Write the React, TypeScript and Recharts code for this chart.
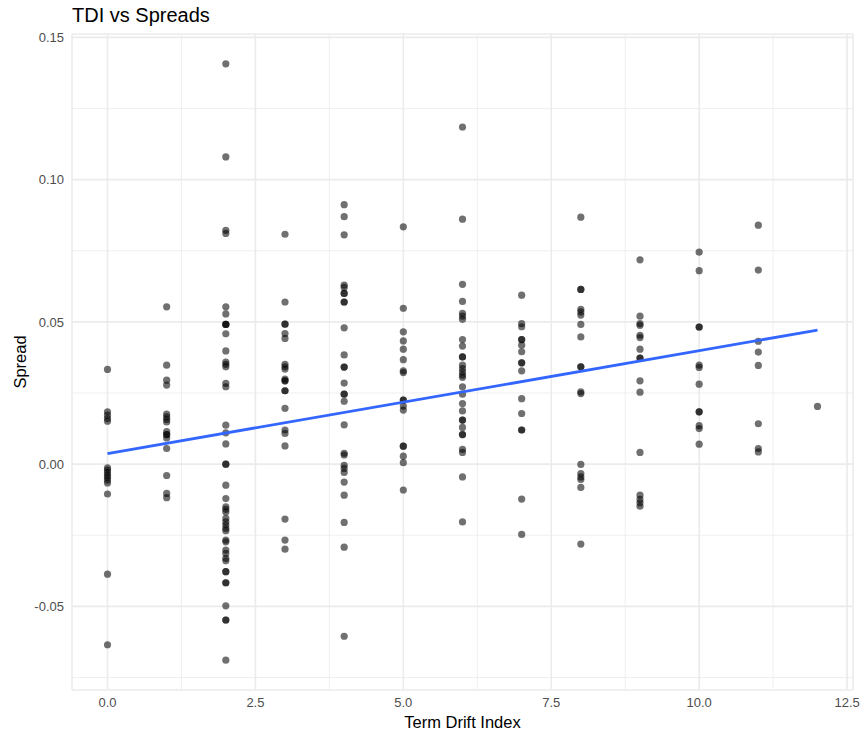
import { ScatterChart, Scatter, XAxis, YAxis, CartesianGrid } from 'recharts';

// spread values read per Term Drift Index column
const spreadAt0 = [0.0333, 0.0184, 0.0172, 0.016, 0.0151, -0.0013, -0.0021, -0.003, -0.0039, -0.0047, -0.0056, -0.0066, -0.0105, -0.0387, -0.0635];
const spreadAt1 = [0.0553, 0.0348, 0.0295, 0.0278, 0.0176, 0.0166, 0.0157, 0.0148, 0.0114, 0.0104, 0.0104, 0.0092, 0.0055, -0.004, -0.0103, -0.0118];
const spreadAt2 = [
    0.1407, 0.108, 0.0822, 0.0811, 0.0553, 0.0528, 0.0491, 0.0491, 0.0491, 0.0458, 0.0398, 0.0359, 0.0351, 0.0342,
    0.0284, 0.0272, 0.0137, 0.011, 0.0071, 0, 0, -0.0074, -0.0121, -0.015, -0.0159, -0.0168, -0.0191, -0.0203, -0.0214,
    -0.0226, -0.0234, -0.0267, -0.0273, -0.0302, -0.0314, -0.0331, -0.034, -0.0378, -0.0378, -0.0417, -0.0417, -0.0498,
    -0.0548, -0.0548, -0.0689,
];
const spreadAt3 = [0.0808, 0.057, 0.0492, 0.0492, 0.0459, 0.0442, 0.0351, 0.0342, 0.0334, 0.0299, 0.0293, 0.0293, 0.0258, 0.0258, 0.0196, 0.012, 0.0108, 0.0064, -0.0193, -0.0267, -0.0299];
const spreadAt4 = [
    0.0912, 0.087, 0.0806, 0.0629, 0.0621, 0.06, 0.06, 0.057, 0.057, 0.0479, 0.0384, 0.0341, 0.0341, 0.0285, 0.0246,
    0.0246, 0.0221, 0.0138, 0.0038, 0.0032, -0.0004, -0.0015, -0.0029, -0.0063, -0.0109, -0.0205, -0.0292, -0.0605,
];
const spreadAt5 = [0.0834, 0.0548, 0.0465, 0.0433, 0.0404, 0.0367, 0.0328, 0.0322, 0.0225, 0.0225, 0.0204, 0.019, 0.0063, 0.0063, 0.0028, 0.0005, -0.0091];
const spreadAt6 = [
    0.1185, 0.0861, 0.0632, 0.0572, 0.053, 0.052, 0.0509, 0.0438, 0.0415, 0.0377, 0.0377, 0.0348, 0.0336, 0.0324, 0.0313,
    0.0305, 0.0272, 0.0246, 0.0213, 0.0187, 0.0155, 0.0155, 0.0129, 0.0104, 0.0104, 0.0052, 0.0041, -0.0045, -0.0203,
];
const spreadAt7 = [0.0594, 0.0494, 0.0483, 0.0438, 0.0438, 0.0418, 0.0395, 0.0356, 0.0356, 0.0328, 0.023, 0.0178, 0.012, 0.012, -0.0123, -0.0247];
const spreadAt8 = [0.0868, 0.0614, 0.0614, 0.0544, 0.0535, 0.0524, 0.0491, 0.0447, 0.0342, 0.0342, 0.0254, 0.0248, -0.0001, -0.0033, -0.0045, -0.0054, -0.0082, -0.0281];
const spreadAt9 = [0.0718, 0.052, 0.0494, 0.0488, 0.0453, 0.0445, 0.0404, 0.0373, 0.0373, 0.0293, 0.0253, 0.0041, -0.0109, -0.0124, -0.0136, -0.0148];
const spreadAt10 = [0.0745, 0.068, 0.0482, 0.0482, 0.0348, 0.034, 0.0281, 0.0184, 0.0184, 0.0135, 0.0125, 0.007];
const spreadAt11 = [0.084, 0.0682, 0.0432, 0.0394, 0.0347, 0.0142, 0.0055, 0.0043];
const spreadAt12 = [0.0203];

const spreadColumns = [spreadAt0, spreadAt1, spreadAt2, spreadAt3, spreadAt4, spreadAt5, spreadAt6, spreadAt7, spreadAt8, spreadAt9, spreadAt10, spreadAt11, spreadAt12];

// fitted line, end points
const fitLine = [
    { x: 0, y: 0.0037 },
    { x: 12, y: 0.0471 },
];

const xTicks = [0, 2.5, 5, 7.5, 10, 12.5];
const xMinor = [1.25, 3.75, 6.25, 8.75, 11.25];
const yTicks = [-0.05, 0, 0.05, 0.1, 0.15];
const yMinor = [-0.075, -0.025, 0.025, 0.075, 0.125];

const points = spreadColumns.flatMap((col, tdi) => col.map((spread) => ({ x: tdi, y: spread })));

const FONT = '"Liberation Sans", Arial, Helvetica, sans-serif';

const Dot = (props: any) => <circle cx={props.cx} cy={props.cy} r={3.6} fill="#000" fillOpacity={0.56} />;

const App = () => {
    return (
        <div style={{ position: 'absolute', left: 0, top: 0, width: 862, height: 733, background: '#fff', fontFamily: FONT }}>
            <div style={{ position: 'absolute', left: 72, top: 3, fontSize: 20, lineHeight: '24px', color: '#000' }}>TDI vs Spreads</div>
            <ScatterChart width={862} height={733} margin={{ top: 34, right: 9, bottom: 0, left: 0 }}>
                <CartesianGrid stroke="#ebebeb" strokeWidth={0.8} horizontalValues={yMinor} verticalValues={xMinor} />
                <CartesianGrid stroke="#ebebeb" strokeWidth={1.6} />
                <XAxis
                    type="number"
                    dataKey="x"
                    domain={[-0.6, 12.6]}
                    ticks={xTicks}
                    tickFormatter={(v: number) => v.toFixed(1)}
                    axisLine={false}
                    tickLine={false}
                    height={43}
                    tick={{ fill: '#4d4d4d', fontSize: 13, fontFamily: FONT }}
                    label={{ value: 'Term Drift Index', position: 'insideBottom', offset: 5, fill: '#000', fontSize: 16.5, fontFamily: FONT }}
                />
                <YAxis
                    type="number"
                    dataKey="y"
                    domain={[-0.0794, 0.1512]}
                    ticks={yTicks}
                    tickFormatter={(v: number) => v.toFixed(2)}
                    axisLine={false}
                    tickLine={false}
                    width={72}
                    tick={{ fill: '#4d4d4d', fontSize: 13, fontFamily: FONT }}
                    label={{ value: 'Spread', angle: -90, position: 'insideLeft', offset: 20, fill: '#000', fontSize: 16.5, fontFamily: FONT, style: { textAnchor: 'middle' } }}
                />
                <Scatter data={points} shape={Dot} isAnimationActive={false} />
                <Scatter
                    data={fitLine}
                    line={{ stroke: '#3366FF', strokeWidth: 2.8 }}
                    shape={() => <g />}
                    isAnimationActive={false}
                />
            </ScatterChart>
        </div>
    );
};

export default App;
